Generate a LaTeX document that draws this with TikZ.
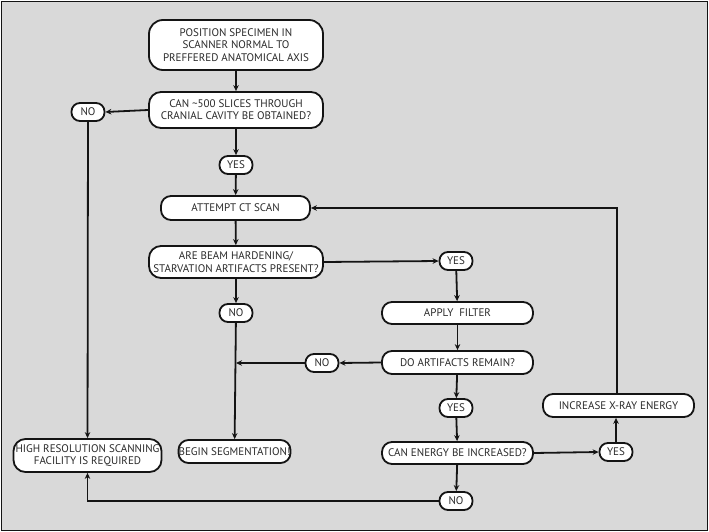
\documentclass[tikz,border=0pt]{standalone}
\usepackage{fontspec}
\setmainfont{PT Sans}
\usetikzlibrary{arrows.meta}
\definecolor{bg}{HTML}{D9D9D9}
\definecolor{ink}{HTML}{141414}
\definecolor{txt}{HTML}{2A2A2A}
\tikzset{
  box/.style={draw=ink, fill=white, line width=1.8pt, rounded corners=10pt, align=center,
    inner sep=0pt, font=\fontsize{11}{12.3}\selectfont, text=txt},
  pill/.style={box, rounded corners=8.5pt, minimum width=33pt, minimum height=18pt},
  conn/.style={draw=ink, line width=1.8pt, -{Stealth[length=6pt,width=5.5pt]}},
}
\begin{document}
\begin{tikzpicture}[x=1pt,y=-1pt]
\useasboundingbox (0,0) rectangle (709,532);
\draw[fill=bg, draw=ink, line width=1.5pt] (1.5,1.5) rectangle (707.5,530.5);

\node[box, minimum width=174pt, minimum height=50pt, rounded corners=14pt] (pos) at (236,45)
  {POSITION SPECIMEN IN\\SCANNER NORMAL TO\\PREFFERED ANATOMICAL AXIS};
\node[box, minimum width=174pt, minimum height=36pt, rounded corners=12pt] (can) at (236,110)
  {CAN \textasciitilde500 SLICES THROUGH\\CRANIAL CAVITY BE OBTAINED?};
\node[pill] (no1) at (88,112) {NO};
\node[pill] (yes1) at (236,165) {YES};
\node[box, minimum width=149pt, minimum height=24pt] (ct) at (235.5,208) {ATTEMPT CT SCAN};
\node[box, minimum width=174pt, minimum height=32pt, rounded corners=12pt] (beam) at (236,262)
  {ARE BEAM HARDENING/\\STARVATION ARTIFACTS PRESENT?};
\node[pill] (no2) at (236,313) {NO};
\node[pill] (no3) at (322,363) {NO};
\node[box, minimum width=112pt, minimum height=23pt] (seg) at (234.5,451.5) {BEGIN SEGMENTATION!};
\node[box, minimum width=148pt, minimum height=33pt, rounded corners=12pt] (high) at (87.5,455.5)
  {HIGH RESOLUTION SCANNING\\FACILITY IS REQUIRED};
\node[pill] (yes2) at (456,261) {YES};
\node[box, minimum width=151pt, minimum height=22pt] (filt) at (457.5,313) {APPLY\ \ FILTER};
\node[box, minimum width=151pt, minimum height=23pt] (rem) at (457.5,362.5) {DO ARTIFACTS REMAIN?};
\node[pill] (yes3) at (456,408) {YES};
\node[box, minimum width=151pt, minimum height=22pt] (inc) at (457.5,453) {CAN ENERGY BE INCREASED?};
\node[pill] (no4) at (456,501) {NO};
\node[pill] (yes4) at (616,452) {YES};
\node[box, minimum width=151pt, minimum height=23pt] (xray) at (618.5,405.5) {INCREASE X-RAY ENERGY};

\coordinate (j1) at (236,363);

\draw[conn] (pos) -- (can);
\draw[conn] (can.west) -- (no1.east);
\draw[conn] (can) -- (yes1);
\draw[conn] (yes1) -- (ct);
\draw[conn] (ct) -- (beam);
\draw[conn] (beam) -- (no2);
\draw[conn] (no2) -- (seg);
\draw[conn] (no1) -- (high);
\draw[conn] (beam.east) -- (yes2.west);
\draw[conn] (yes2) -- (filt);
\draw[conn] (filt) -- (rem);
\draw[conn] (rem.west) -- (no3.east);
\draw[conn] (no3.west) -- (j1);
\draw[conn] (rem) -- (yes3);
\draw[conn] (yes3) -- (inc);
\draw[conn] (inc) -- (no4);
\draw[conn] (inc.east) -- (yes4.west);
\draw[conn] (yes4) -- (xray.south -| yes4);
\draw[conn] (xray.north -| 617,0) |- (ct.east);
\draw[conn] (no4.west) -| (high.south);
\end{tikzpicture}
\end{document}
